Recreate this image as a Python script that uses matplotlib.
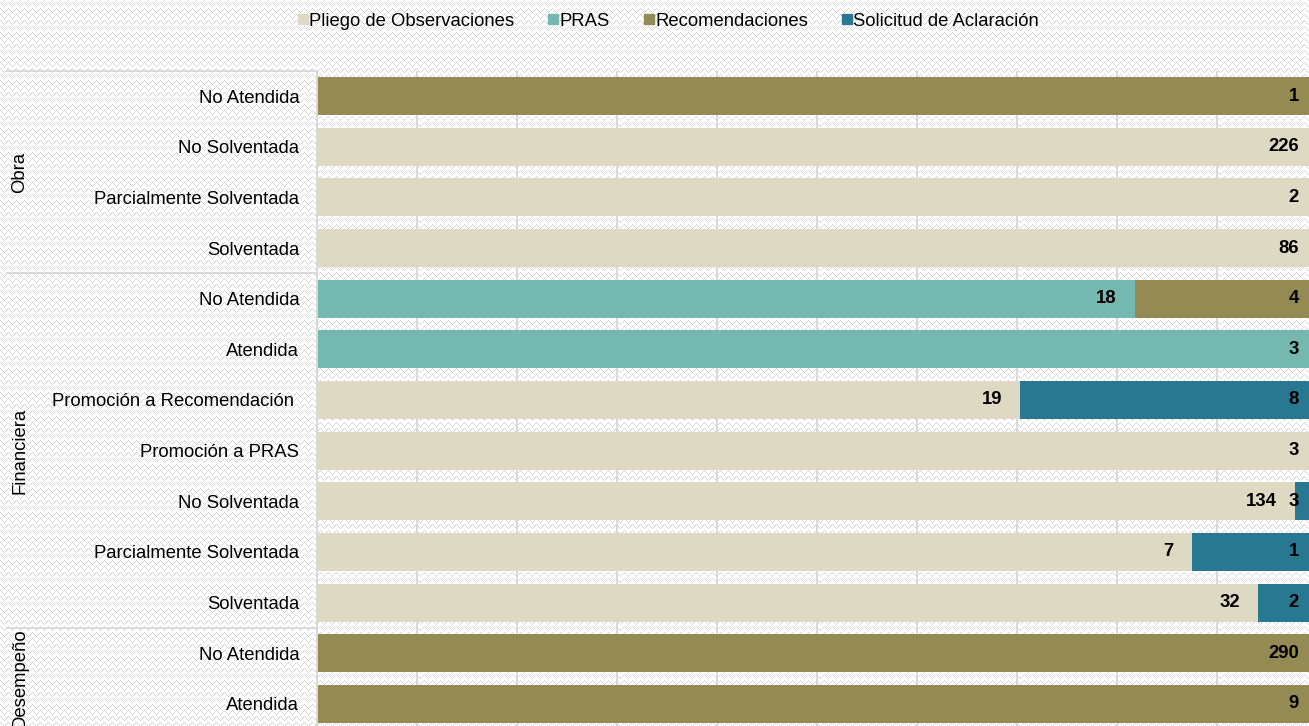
import numpy as np
import matplotlib
matplotlib.use("Agg")
import matplotlib.pyplot as plt
from matplotlib.lines import Line2D

# ================= DATOS =================
GRUPOS = ["Obra", "Financiera", "Desempeño"]
FILAS_POR_GRUPO = [4, 7, 2]

ESTATUS = [
    "No Atendida", "No Solventada", "Parcialmente Solventada", "Solventada",
    "No Atendida", "Atendida", "Promoción a Recomendación ", "Promoción a PRAS",
    "No Solventada", "Parcialmente Solventada", "Solventada",
    "No Atendida", "Atendida",
]

SERIES = ["Pliego de Observaciones", "PRAS", "Recomendaciones", "Solicitud de Aclaración"]
pliego = [0, 226, 2, 86, 0, 0, 19, 3, 134, 7, 32, 0, 0]
pras = [0, 0, 0, 0, 18, 3, 0, 0, 0, 0, 0, 0, 0]
recomendaciones = [1, 0, 0, 0, 4, 0, 0, 0, 0, 0, 0, 290, 9]
solicitud = [0, 0, 0, 0, 0, 0, 8, 0, 3, 1, 2, 0, 0]

COLORES = ["#DDD9C3", "#74B8B0", "#948A54", "#277890"]
GRIS = "#D9D9D9"

# ================= ESTILO =================
plt.rcParams["font.family"] = ["Liberation Sans", "DejaVu Sans"]
FUENTE = 13.3

W, H, DPI = 1309, 726, 100


def textura_zigzag(w, h):
    # Fondo blanco con zigzag gris claro (relleno de patrón)
    yy, xx = np.mgrid[0:h, 0:w]
    tri = np.abs((xx % 8) - 4)
    linea = ((yy + tri) % 6) < 2
    punteado = ((xx + yy) % 2) == 0
    img = np.ones((h, w, 3))
    img[linea & punteado] = 0.83
    return img


def crear_grafica():
    fig = plt.figure(figsize=(W / DPI, H / DPI), dpi=DPI)
    fig.patch.set_facecolor("white")
    fig.figimage(textura_zigzag(W, H), xo=0, yo=0, zorder=-5, origin="upper")

    # El área de trazado llega hasta el borde derecho e inferior
    izq, der, arr, aba = 316.7, 1316.7, 70.7, 729.3
    ax = fig.add_axes([izq / W, 1 - aba / H, (der - izq) / W, (aba - arr) / H])
    ax.patch.set_visible(False)
    ax.set_zorder(2)

    valores = np.array([pliego, pras, recomendaciones, solicitud], dtype=float)
    totales = valores.sum(axis=0)
    pct = valores / totales * 100
    y = np.arange(len(ESTATUS))

    izquierda = np.zeros(len(ESTATUS))
    for i, serie in enumerate(SERIES):
        ax.barh(y, pct[i], left=izquierda, height=0.75, color=COLORES[i],
                label=serie, zorder=2)
        for fila in range(len(ESTATUS)):
            if valores[i, fila] > 0:
                fin = izquierda[fila] + pct[i, fila]
                ax.annotate(f"{int(valores[i, fila])}", xy=(fin, fila),
                            xytext=(-13, 0), textcoords="offset points",
                            ha="right", va="center", fontsize=FUENTE,
                            fontweight="bold", color="black", zorder=3)
        izquierda += pct[i]

    ax.set_xlim(0, 100)
    ax.set_ylim(len(ESTATUS) - 0.5, -0.5)
    ax.set_xticks(np.arange(0, 101, 10))
    ax.set_xticklabels([])
    ax.tick_params(axis="x", length=0)
    ax.grid(axis="x", color=GRIS, linewidth=1.4, zorder=1)
    ax.set_axisbelow(True)

    ax.set_yticks(y)
    ax.set_yticklabels(ESTATUS, fontsize=FUENTE)
    ax.tick_params(axis="y", length=0, pad=12.5)

    for lado in ["top", "right", "bottom"]:
        ax.spines[lado].set_visible(False)
    ax.spines["left"].set_color(GRIS)
    ax.spines["left"].set_linewidth(1.4)

    # Separadores y nombres de grupo a la izquierda
    trans = ax.get_yaxis_transform()
    inicio = -0.5
    for grupo, n in zip(GRUPOS, FILAS_POR_GRUPO):
        ax.plot([-0.31, 0], [inicio, inicio], transform=trans, color=GRIS,
                linewidth=1.4, clip_on=False)
        ax.text(-0.2967, inicio + n / 2, grupo, transform=trans, rotation=90,
                ha="center", va="center", fontsize=FUENTE, clip_on=False)
        inicio += n

    # Leyenda superior
    handles = [Line2D([], [], marker="s", linestyle="", markersize=7.5,
                      markerfacecolor=c, markeredgecolor=c) for c in COLORES]
    fig.legend(handles, SERIES, loc="center", bbox_to_anchor=(668 / W, 1 - 21 / H),
               ncol=4, frameon=False, fontsize=FUENTE, handlelength=0.6,
               handletextpad=0.05, columnspacing=1.8, borderaxespad=0)

    fig.savefig("out.png", dpi=DPI)
    plt.close(fig)


if __name__ == "__main__":
    crear_grafica()
